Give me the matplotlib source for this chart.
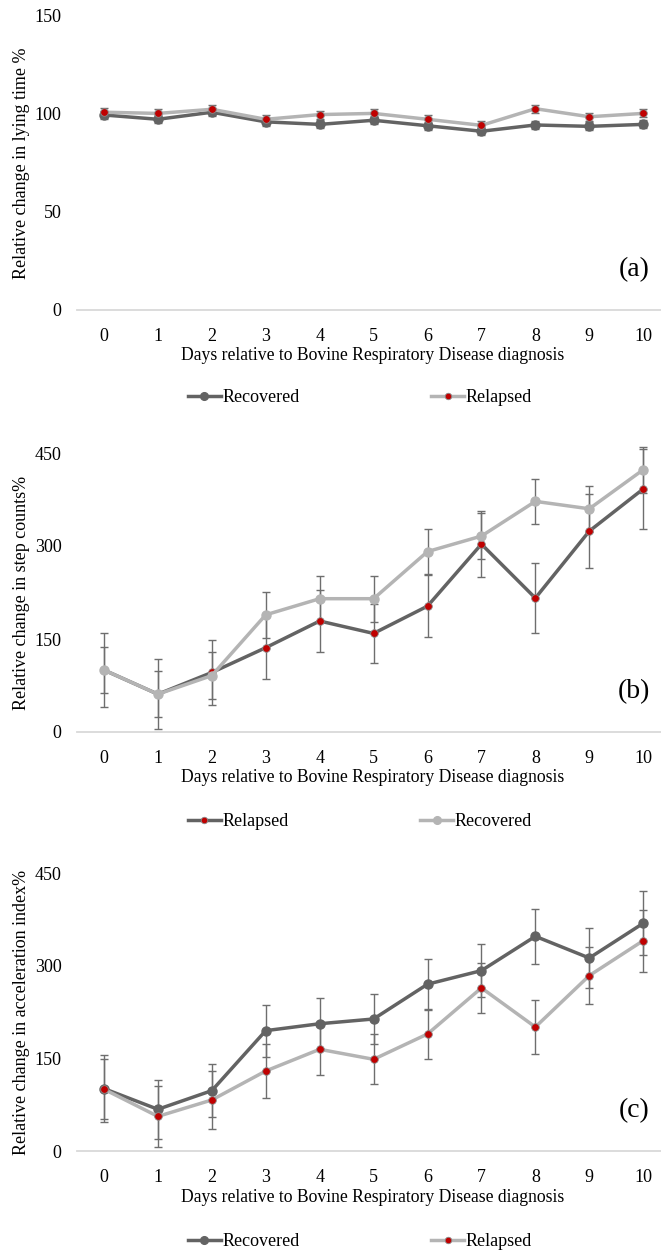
import numpy as np
import matplotlib.pyplot as plt

plt.rcParams['font.family'] = ['Liberation Serif', 'DejaVu Serif']

days = [0, 1, 2, 3, 4, 5, 6, 7, 8, 9, 10]

# (a) lying time
recovered_a = [99.5, 97.3, 100.9, 96.0, 94.7, 96.8, 94.0, 91.2, 94.4, 93.7, 94.7]
recovered_a_err = [2, 2, 2, 2, 2, 2, 2, 2, 2, 2, 2]
relapsed_a = [100.9, 100.3, 102.4, 97.3, 99.7, 100.3, 97.3, 94.2, 102.7, 98.6, 100.3]
relapsed_a_err = [2, 2, 2, 2, 2, 2, 2, 2, 2, 2, 2]

# (b) step counts
relapsed_b = [100, 61, 96, 136, 179, 159, 203, 303, 216, 324, 392]
relapsed_b_err = [60, 56, 53, 50, 50, 48, 50, 53, 56, 60, 65]
recovered_b = [100, 61, 91, 189, 215, 215, 291, 316, 372, 360, 423]
recovered_b_err = [37, 37, 38, 37, 37, 37, 36, 37, 36, 37, 37]

# (c) acceleration index
recovered_c = [101, 67.5, 97.7, 194.8, 206, 213.7, 270, 292, 347.5, 312.4, 368.6]
recovered_c_err = [54, 48, 43, 42, 41, 41, 41.5, 43, 45, 48, 52]
relapsed_c = [100, 56, 82.6, 129.5, 164.6, 148.4, 189.4, 264, 200.7, 283.9, 340.5]
relapsed_c_err = [49, 49, 47, 43.5, 42, 40.5, 41, 41, 43, 46, 50]

DARK = '#636363'
LIGHT = '#b4b4b4'
RED = '#c00000'
ERR = '#6e6e6e'

W, H = 661, 1251
fig = plt.figure(figsize=(W / 100, H / 100), dpi=100)


def px_axes(top, bottom, left=77, right=661):
    return fig.add_axes([left / W, 1 - bottom / H, (right - left) / W, (bottom - top) / H])


def series(ax, y, err, line_col, red, label):
    eb = ax.errorbar(days, y, yerr=err, fmt='none', ecolor=ERR, elinewidth=1.0,
                     capsize=3, capthick=1.0, zorder=2)
    for art in eb.lines[1] + eb.lines[2]:
        art.set_clip_on(False)
    if red:
        h, = ax.plot(days, y, color=line_col, lw=2.5, marker='o', ms=5.5,
                     mfc=RED, mec='#8a8a8a', mew=0.6, zorder=3, label=label)
    else:
        h, = ax.plot(days, y, color=line_col, lw=2.5, marker='o', ms=6.5,
                     mfc=line_col, mec=line_col, zorder=3, label=label)
    return h


panels = [
    dict(top=16, bottom=310, yt=[0, 50, 100, 150], ylabel='Relative change in lying time %',
         tag='(a)', leg_y=398,
         s=[(recovered_a, recovered_a_err, DARK, False, 'Recovered'),
            (relapsed_a, relapsed_a_err, LIGHT, True, 'Relapsed')]),
    dict(top=453, bottom=732, yt=[0, 150, 300, 450], ylabel='Relative change in step counts%',
         tag='(b)', leg_y=822,
         s=[(relapsed_b, relapsed_b_err, DARK, True, 'Relapsed'),
            (recovered_b, recovered_b_err, LIGHT, False, 'Recovered')]),
    dict(top=873, bottom=1151, yt=[0, 150, 300, 450], ylabel='Relative change in acceleration index%',
         tag='(c)', leg_y=1242,
         s=[(recovered_c, recovered_c_err, DARK, False, 'Recovered'),
            (relapsed_c, relapsed_c_err, LIGHT, True, 'Relapsed')]),
]

for p in panels:
    ax = px_axes(p['top'], p['bottom'])
    handles = []
    for y, e, col, red, lab in p['s']:
        handles.append(series(ax, y, e, col, red, lab))
    ax.set_xlim(-0.5, 10.33)
    ax.set_ylim(p['yt'][0], p['yt'][-1])
    ax.set_xticks(days)
    ax.set_yticks(p['yt'])
    ax.tick_params(length=0, labelsize=13)
    ax.tick_params(axis='x', pad=13)
    ax.tick_params(axis='y', pad=11)
    for side in ['top', 'right', 'left']:
        ax.spines[side].set_visible(False)
    ax.spines['bottom'].set_color('#d9d9d9')
    ax.spines['bottom'].set_linewidth(1.3)
    ax.patch.set_alpha(0)

    mid = 1 - (p['top'] + p['bottom']) / 2 / H
    fig.text(22 / W, mid, p['ylabel'], rotation=90, ha='center', va='center', fontsize=13)
    fig.text(373 / W, 1 - (p['bottom'] + 46) / H,
             'Days relative to Bovine Respiratory Disease diagnosis',
             ha='center', va='center', fontsize=12.7)
    fig.text(634 / W, 1 - (p['bottom'] - 40) / H, p['tag'], ha='center', va='center', fontsize=20)

    fig.legend(handles=handles, loc='center', bbox_to_anchor=(360 / W, 1 - p['leg_y'] / H),
               ncol=2, frameon=False, fontsize=13, handlelength=1.8,
               handletextpad=0.1, columnspacing=7.3, markerscale=0.85)

fig.savefig('out.png', dpi=100)
